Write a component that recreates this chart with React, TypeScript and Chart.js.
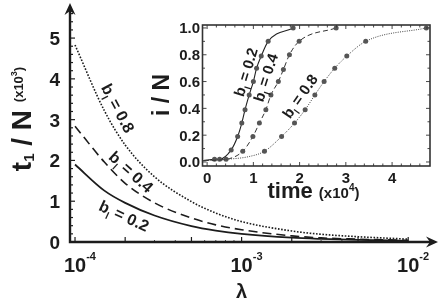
import React, { useEffect, useRef } from "react";
import { Chart, registerables } from "chart.js";

Chart.register(...registerables);

const FONT = '"Liberation Sans", Arial, Helvetica, sans-serif';
const INK = "#1c1c1c";

// ---- main chart data: t1/N (x10^3) versus lambda ----
const lambdaValues = [1e-4, 1.5e-4, 2e-4, 3e-4, 5e-4, 7e-4, 1e-3, 2e-3, 3e-3, 5e-3, 1e-2];
const t1_b02 = [1.9, 1.26, 0.96, 0.65, 0.39, 0.28, 0.2, 0.105, 0.075, 0.05, 0.03];
const t1_b04 = [2.84, 1.96, 1.44, 0.96, 0.59, 0.42, 0.3, 0.15, 0.1, 0.07, 0.04];
const t1_b08 = [4.83, 3.22, 2.38, 1.6, 0.99, 0.71, 0.5, 0.27, 0.19, 0.13, 0.07];
const mainYTicks = [0, 1, 2, 3, 4, 5];
const mainXTickExponents = [-4, -3, -2];

// ---- inset data: i/N versus time (x10^4) ----
const inset_b02_time = [-0.08, 0.16, 0.27, 0.52, 0.66, 0.75, 0.82, 0.91, 1.0, 1.07, 1.17, 1.32, 1.86];
const inset_b02_i = [0.01, 0.02, 0.02, 0.09, 0.19, 0.29, 0.39, 0.5, 0.6, 0.7, 0.79, 0.9, 1.0];
const inset_b04_time = [-0.08, 0.41, 0.77, 0.99, 1.13, 1.27, 1.38, 1.54, 1.65, 1.78, 1.99, 2.79];
const inset_b04_i = [0.01, 0.02, 0.08, 0.19, 0.29, 0.39, 0.5, 0.6, 0.69, 0.8, 0.9, 1.0];
const inset_b08_time = [-0.08, 0.41, 0.9, 1.24, 1.61, 1.89, 2.12, 2.33, 2.53, 2.76, 3.02, 3.43, 4.74];
const inset_b08_i = [0.01, 0.02, 0.04, 0.08, 0.19, 0.29, 0.39, 0.5, 0.6, 0.7, 0.79, 0.9, 1.0];
const inset_b08_marker = [0, 0, 0, 1, 1, 1, 1, 1, 1, 1, 1, 1, 1];
const insetXTicks = [0, 1, 2, 3, 4];
const insetYTicks = [0, 0.2, 0.4, 0.6, 0.8, 1.0];

type Part = { t: string; size: number; dy?: number };

function drawRich(
  ctx: CanvasRenderingContext2D,
  parts: Part[],
  x: number,
  y: number,
  angle: number,
  align: "center" | "left" | "right" = "center"
) {
  ctx.save();
  ctx.translate(x, y);
  ctx.rotate(angle);
  ctx.textAlign = "left";
  ctx.textBaseline = "alphabetic";
  const widths = parts.map((p) => {
    ctx.font = `bold ${p.size}px ${FONT}`;
    return ctx.measureText(p.t).width;
  });
  const total = widths.reduce((a, b) => a + b, 0);
  let cx = align === "center" ? -total / 2 : align === "right" ? -total : 0;
  parts.forEach((p, i) => {
    ctx.font = `bold ${p.size}px ${FONT}`;
    ctx.fillText(p.t, cx, p.dy || 0);
    cx += widths[i];
  });
  ctx.restore();
}

function bLabel(v: string, size: number): Part[] {
  return [
    { t: "b", size },
    { t: "l", size: size * 0.62, dy: size * 0.3 },
    { t: " = " + v, size },
  ];
}

const mainLabels = [
  { text: "0.8", lam: 1.81e-4, t: 3.28, angle: 62 },
  { text: "0.4", lam: 2.17e-4, t: 1.72, angle: 42 },
  { text: "0.2", lam: 1.97e-4, t: 0.64, angle: 25 },
];
const insetLabels = [
  { text: "0.2", time: 0.84, i: 0.67, angle: -73 },
  { text: "0.4", time: 1.27, i: 0.63, angle: -72 },
  { text: "0.8", time: 2.01, i: 0.49, angle: -55 },
];

const mainDecor = {
  id: "mainDecor",
  afterDraw(chart: any) {
    const ctx: CanvasRenderingContext2D = chart.ctx;
    const xs = chart.scales.x;
    const ys = chart.scales.y;
    const x0 = xs.left;
    const y0 = ys.getPixelForValue(0);
    const xEnd = xs.right;
    const yTop = ys.top;
    ctx.save();
    ctx.strokeStyle = INK;
    ctx.fillStyle = INK;
    ctx.lineWidth = 2.4;
    ctx.beginPath();
    ctx.moveTo(x0, y0 + 1.2);
    ctx.lineTo(x0, yTop + 6);
    ctx.moveTo(x0 - 1.2, y0);
    ctx.lineTo(xEnd - 6, y0);
    ctx.stroke();
    // arrows
    ctx.beginPath();
    ctx.moveTo(xEnd, y0);
    ctx.lineTo(xEnd - 12, y0 - 5.5);
    ctx.lineTo(xEnd - 8, y0);
    ctx.lineTo(xEnd - 12, y0 + 5.5);
    ctx.closePath();
    ctx.fill();
    ctx.beginPath();
    ctx.moveTo(x0, yTop);
    ctx.lineTo(x0 - 5.5, yTop + 12);
    ctx.lineTo(x0, yTop + 8);
    ctx.lineTo(x0 + 5.5, yTop + 12);
    ctx.closePath();
    ctx.fill();

    // y ticks
    ctx.lineWidth = 1.2;
    for (let k = 1; k <= 28; k++) {
      const v = k * 0.2;
      const py = ys.getPixelForValue(v);
      const major = k % 5 === 0;
      ctx.beginPath();
      ctx.moveTo(x0, py);
      ctx.lineTo(x0 + (major ? 5 : 3), py);
      ctx.stroke();
    }
    // x ticks
    for (let e = -4; e <= -2; e++) {
      for (let m = 1; m <= 9; m++) {
        const val = m * Math.pow(10, e);
        if (val > 1.2e-2 || val < 1e-4) continue;
        const px = xs.getPixelForValue(val);
        const major = m === 1 || m === 2 || m === 5;
        ctx.lineWidth = major ? 1.2 : 0.8;
        ctx.beginPath();
        ctx.moveTo(px, y0);
        ctx.lineTo(px, y0 - (major ? 5 : 2));
        ctx.stroke();
      }
    }

    // y tick labels
    mainYTicks.forEach((v) => {
      drawRich(ctx, [{ t: String(v), size: 19 }], x0 - 10, ys.getPixelForValue(v) + 7, 0, "right");
    });
    // x tick labels
    mainXTickExponents.forEach((e) => {
      const px = xs.getPixelForValue(Math.pow(10, e));
      ctx.font = `bold 20px ${FONT}`;
      const w = ctx.measureText("10").width;
      drawRich(ctx, [{ t: "10", size: 20 }], px, y0 + 30, 0, "center");
      drawRich(ctx, [{ t: String(e), size: 11 }], px + w / 2, y0 + 18, 0, "left");
    });
    // axis titles
    drawRich(ctx, [{ t: "λ", size: 20 }], xs.getPixelForValue(1e-3), 298, 0, "center");
    drawRich(
      ctx,
      [
        { t: "t", size: 28 },
        { t: "1", size: 15, dy: 3 },
        { t: " / N ", size: 28 },
        { t: "(x10", size: 13, dy: -8 },
        { t: "3", size: 9, dy: -14 },
        { t: ")", size: 13, dy: -8 },
      ],
      31,
      119,
      -Math.PI / 2,
      "center"
    );
    // curve labels
    mainLabels.forEach((l) => {
      const px = xs.getPixelForValue(l.lam);
      const py = ys.getPixelForValue(l.t);
      ctx.save();
      ctx.translate(px, py);
      ctx.rotate((l.angle * Math.PI) / 180);
      drawRich(ctx, bLabel(l.text, 16), 0, 5.5, 0, "center");
      ctx.restore();
    });
    ctx.restore();
  },
};

const insetDecor = {
  id: "insetDecor",
  afterDraw(chart: any) {
    const ctx: CanvasRenderingContext2D = chart.ctx;
    const xs = chart.scales.x;
    const ys = chart.scales.y;
    const a = chart.chartArea;
    ctx.save();
    ctx.strokeStyle = "#333";
    ctx.fillStyle = INK;
    ctx.lineWidth = 1.6;
    ctx.strokeRect(a.left, a.top, a.right - a.left, a.bottom - a.top);
    ctx.lineWidth = 0.9;
    for (let k = 0; k <= 24; k++) {
      const v = k * 0.2;
      const px = xs.getPixelForValue(v);
      if (px > a.right - 1) continue;
      const len = k % 5 === 0 ? 4 : 2.5;
      ctx.beginPath();
      ctx.moveTo(px, a.bottom);
      ctx.lineTo(px, a.bottom - len);
      ctx.moveTo(px, a.top);
      ctx.lineTo(px, a.top + len);
      ctx.stroke();
    }
    for (let k = 0; k <= 10; k++) {
      const py = ys.getPixelForValue(k * 0.1);
      const len = k % 2 === 0 ? 4 : 2.5;
      ctx.beginPath();
      ctx.moveTo(a.left, py);
      ctx.lineTo(a.left + len, py);
      ctx.moveTo(a.right, py);
      ctx.lineTo(a.right - len, py);
      ctx.stroke();
    }
    insetYTicks.forEach((v) => {
      drawRich(ctx, [{ t: v.toFixed(1), size: 15 }], a.left - 2.5, ys.getPixelForValue(v) + 5.5, 0, "right");
    });
    insetXTicks.forEach((v) => {
      drawRich(ctx, [{ t: String(v), size: 15 }], xs.getPixelForValue(v), a.bottom + 17, 0, "center");
    });
    drawRich(
      ctx,
      [
        { t: "time ", size: 22 },
        { t: "(x10", size: 15 },
        { t: "4", size: 10, dy: -7 },
        { t: ")", size: 15 },
      ],
      xs.getPixelForValue(2.3),
      a.bottom + 32,
      0,
      "center"
    );
    drawRich(ctx, [{ t: "i / N", size: 23 }], a.left - 34, ys.getPixelForValue(0.5), -Math.PI / 2, "center");
    insetLabels.forEach((l) => {
      const px = xs.getPixelForValue(l.time);
      const py = ys.getPixelForValue(l.i);
      ctx.save();
      ctx.translate(px, py);
      ctx.rotate((l.angle * Math.PI) / 180);
      drawRich(ctx, bLabel(l.text, 15), 0, 5, 0, "center");
      ctx.restore();
    });
    ctx.restore();
  },
};

function toXY(xs: number[], ys: number[]) {
  return xs.map((x, i) => ({ x, y: ys[i] }));
}

export default function App() {
  const mainRef = useRef<HTMLCanvasElement>(null);
  const insetRef = useRef<HTMLCanvasElement>(null);

  useEffect(() => {
    const mainChart = new Chart(mainRef.current!, {
      type: "line",
      data: {
        datasets: [
          {
            data: toXY(lambdaValues, t1_b08),
            borderColor: INK,
            borderWidth: 1.6,
            borderDash: [1.6, 1.6],
            pointRadius: 0,
            cubicInterpolationMode: "monotone",
          },
          {
            data: toXY(lambdaValues, t1_b04),
            borderColor: INK,
            borderWidth: 1.6,
            borderDash: [9, 5],
            pointRadius: 0,
            cubicInterpolationMode: "monotone",
          },
          {
            data: toXY(lambdaValues, t1_b02),
            borderColor: INK,
            borderWidth: 1.8,
            pointRadius: 0,
            cubicInterpolationMode: "monotone",
          },
        ],
      },
      options: {
        animation: false,
        responsive: false,
        devicePixelRatio: 1,
        layout: { padding: { top: 3, right: 2, left: 0, bottom: 0 } },
        plugins: { legend: { display: false }, tooltip: { enabled: false } },
        scales: {
          x: {
            type: "logarithmic",
            min: 9.33e-5,
            max: 1.51e-2,
            grid: { display: false },
            border: { display: false },
            ticks: { display: false },
            afterFit: (s: any) => {
              s.height = 59;
            },
          },
          y: {
            type: "linear",
            min: 0,
            max: 5.86,
            grid: { display: false },
            border: { display: false },
            ticks: { display: false },
            afterFit: (s: any) => {
              s.width = 70;
            },
          },
        },
      },
      plugins: [mainDecor],
    } as any);

    const marker = (arr: number[]) => arr.map((m) => (m ? 2.5 : 0));
    const insetChart = new Chart(insetRef.current!, {
      type: "line",
      data: {
        datasets: [
          {
            data: toXY(inset_b08_time, inset_b08_i),
            borderColor: "#444",
            borderWidth: 1,
            borderDash: [1, 1.3],
            pointRadius: marker(inset_b08_marker),
            pointBackgroundColor: "#555",
            pointBorderWidth: 0,
            cubicInterpolationMode: "monotone",
          },
          {
            data: toXY(inset_b04_time, inset_b04_i),
            borderColor: "#333",
            borderWidth: 1,
            borderDash: [5, 3],
            pointRadius: inset_b04_time.map((_, i) => (i === 0 ? 0 : 2.5)),
            pointBackgroundColor: "#555",
            pointBorderWidth: 0,
            cubicInterpolationMode: "monotone",
          },
          {
            data: toXY(inset_b02_time, inset_b02_i),
            borderColor: "#222",
            borderWidth: 1.1,
            pointRadius: inset_b02_time.map((_, i) => (i === 0 ? 0 : 2.5)),
            pointBackgroundColor: "#555",
            pointBorderWidth: 0,
            cubicInterpolationMode: "monotone",
          },
        ],
      },
      options: {
        animation: false,
        responsive: false,
        devicePixelRatio: 1,
        layout: { padding: { top: 10, right: 10, left: 0, bottom: 0 } },
        plugins: { legend: { display: false }, tooltip: { enabled: false } },
        scales: {
          x: {
            type: "linear",
            min: -0.1,
            max: 4.82,
            grid: { display: false },
            border: { display: false },
            ticks: { display: false },
            afterFit: (s: any) => {
              s.height = 44;
            },
          },
          y: {
            type: "linear",
            min: -0.03,
            max: 1.022,
            grid: { display: false },
            border: { display: false },
            ticks: { display: false },
            afterFit: (s: any) => {
              s.width = 52.5;
            },
          },
        },
      },
      plugins: [insetDecor],
    } as any);

    return () => {
      mainChart.destroy();
      insetChart.destroy();
    };
  }, []);

  return (
    <div style={{ position: "fixed", left: 0, top: 0, width: 440, height: 301, background: "#fff" }}>
      <canvas ref={mainRef} width={440} height={301} style={{ position: "absolute", left: 0, top: 0, width: 440, height: 301 }} />
      <canvas ref={insetRef} width={290} height={195} style={{ position: "absolute", left: 150, top: 15, width: 290, height: 195 }} />
    </div>
  );
}
